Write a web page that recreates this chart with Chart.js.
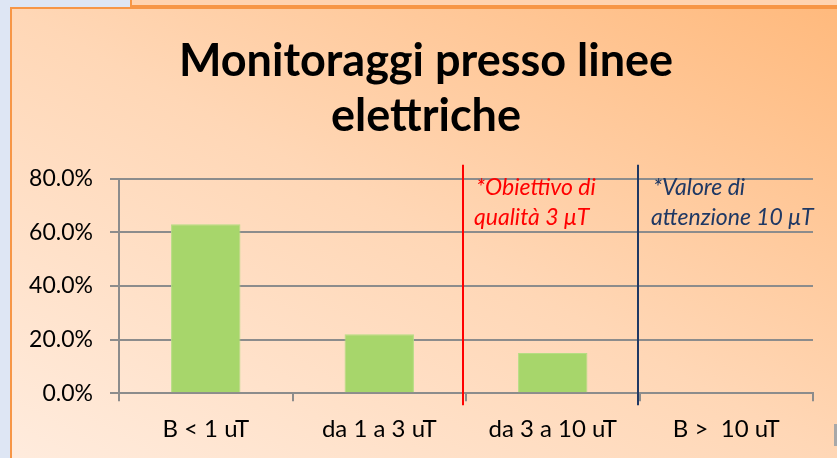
<!DOCTYPE html>
<html>
<head>
<meta charset="utf-8">
<script src="https://cdn.jsdelivr.net/npm/chart.js@4.4.0/dist/chart.umd.min.js"></script>
<style>
  html, body { margin: 0; padding: 0; }
  body { width: 837px; height: 458px; overflow: hidden; position: relative; background: #dee6f4; }
  #backPanel { position: absolute; left: 130px; top: -4px; width: 720px; height: 9px;
    background: #ffd3b0; border-left: 2px solid #f79646; border-bottom: 2px solid #f79646; }
  #panel { position: absolute; left: 10px; top: 7px; width: 840px; height: 460px;
    border-left: 2px solid #f79646; border-top: 2px solid #f79646;
    background: linear-gradient(to top right, #ffecde 0%, #ffd7b6 50%, #ffb97c 100%); }
  #grayEdge { position: absolute; left: 834px; top: 424px; width: 3px; height: 22px; background: #a8a8a8; }
  #wrap { position: absolute; left: 0; top: 0; width: 837px; height: 458px; }
</style>
</head>
<body>
<div id="backPanel"></div>
<div id="panel"></div>
<div id="grayEdge"></div>
<div id="wrap"><canvas id="myChart"></canvas></div>
<script>
// dati del grafico
var categorie = ['B < 1 uT', 'da 1 a 3 uT', 'da 3 a 10 uT', 'B >  10 uT'];
var valori = [63, 22, 15, 0];
var tickY = [0, 20, 40, 60, 80];
var titolo = ['Monitoraggi presso linee', 'elettriche'];

// linee di riferimento (posizione sull'asse delle categorie)
var soglie = [
  {pos: 1.48, color: '#ff0000', text: ['*Obiettivo di', 'qualità 3 μT'], dx: 13},
  {pos: 2.49, color: '#1f3864', text: ['*Valore di', 'attenzione 10 μT'], dx: 15}
];

var FONT = 'Lato, "Liberation Sans", sans-serif';

var soglieLines = {
  id: 'soglieLines',
  afterLayout(chart) {
    // il titolo e' centrato sul pannello, non sull'area del grafico
    if (chart.titleBlock) chart.titleBlock.left += 27;
  },
  afterDatasetsDraw(chart) {
    var ctx = chart.ctx;
    var area = chart.chartArea;
    var x = chart.scales.x;
    ctx.save();
    for (var i = 0; i < soglie.length; i++) {
      var s = soglie[i];
      var px = Math.round(x.getPixelForValue(s.pos));
      ctx.strokeStyle = s.color;
      ctx.lineWidth = 2;
      ctx.beginPath();
      ctx.moveTo(px, area.top - 14);
      ctx.lineTo(px, area.bottom + 12);
      ctx.stroke();
      ctx.fillStyle = s.color;
      ctx.font = 'italic 23px ' + FONT;
      ctx.textBaseline = 'alphabetic';
      ctx.textAlign = 'left';
      ctx.fillText(s.text[0], px + s.dx, area.top + 16);
      ctx.fillText(s.text[1], px + s.dx - 2, area.top + 46);
    }
    ctx.restore();
  }
};

new Chart('myChart', {
  type: 'bar',
  data: {
    labels: categorie,
    datasets: [{
      data: valori,
      backgroundColor: '#a7d66b',
      borderColor: '#b5dd83',
      borderWidth: 1,
      barPercentage: 0.4,
      categoryPercentage: 1
    }]
  },
  options: {
    responsive: true,
    maintainAspectRatio: false,
    animation: false,
    layout: { padding: { left: 12, right: 24, top: 34, bottom: 0 } },
    plugins: {
      legend: { display: false },
      tooltip: { enabled: false },
      title: {
        display: true,
        text: titolo,
        color: '#000',
        font: { family: FONT, size: 45, weight: 'bold', lineHeight: 1.22 },
        padding: { top: 0, bottom: 35 }
      }
    },
    scales: {
      x: {
        grid: { drawOnChartArea: false, drawTicks: true, tickLength: 8, color: '#8c8c8c', lineWidth: 2, offset: true },
        border: { color: '#8c8c8c', width: 2 },
        ticks: { color: '#000', font: { family: FONT, size: 24 }, padding: 14 }
      },
      y: {
        min: 0,
        max: 80,
        afterFit: function(axis) { axis.width = 107; },
        afterBuildTicks: function(axis) { axis.ticks = tickY.map(function(v) { return {value: v}; }); },
        grid: { color: '#8c8c8c', lineWidth: 2, tickLength: 9 },
        border: { color: '#8c8c8c', width: 2 },
        ticks: {
          color: '#000',
          font: { family: FONT, size: 23 },
          padding: 17,
          callback: function(v) { return v.toFixed(1) + '%'; }
        }
      }
    }
  },
  plugins: [soglieLines]
});
</script>
</body>
</html>
